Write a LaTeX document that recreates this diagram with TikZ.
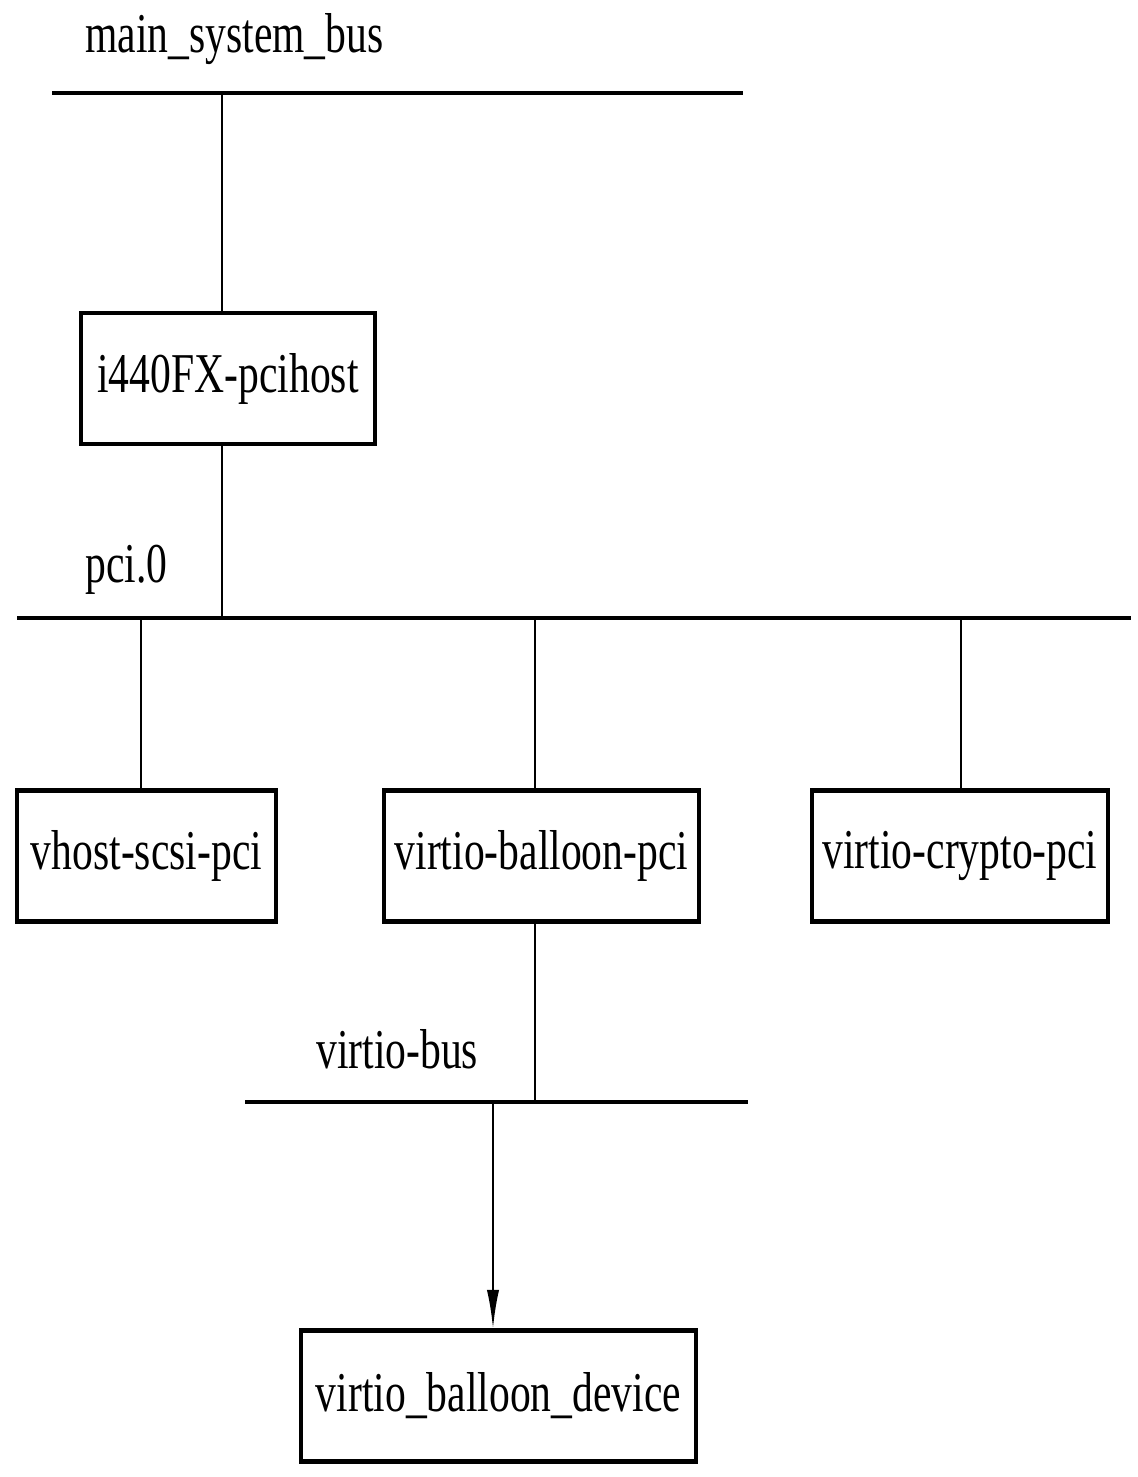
\documentclass[tikz,border=0pt]{standalone}
\usepackage{fontspec}
\setmainfont[FakeStretch=0.74]{Liberation Serif}
\usetikzlibrary{arrows.meta}

\begin{document}
\begin{tikzpicture}[x=0.02cm,y=-0.02cm,
  box/.style={draw,line width=2.4pt,minimum height=2.62cm,inner sep=0pt,font=\fontsize{32}{38}\selectfont},
  busname/.style={anchor=base west,inner sep=0pt,font=\fontsize{32}{38}\selectfont},
  bus/.style={line width=2pt},
  link/.style={line width=1.3pt}]
\useasboundingbox (0,0) rectangle (1138,1477);

% Buses
\draw[bus] (52,93) coordinate (mbusL) -- (743,93) coordinate (mbusR);
\draw[bus] (17,618) coordinate (pbusL) -- (1131,618) coordinate (pbusR);
\draw[bus] (245,1102) coordinate (vbusL) -- (748,1102) coordinate (vbusR);
\node[busname] (mbusname) at (85,53) {main\_system\_bus};
\node[busname] (pbusname) at (85,582) {pci.0};
\node[busname] (vbusname) at (316,1068) {virtio-bus};

% Devices
\node[box,minimum width=5.88cm] (host) at (228,378.5) {i440FX-pcihost};
\node[box,minimum width=5.18cm] (vhost) at (146.5,856) {vhost-scsi-pci};
\node[box,minimum width=6.30cm] (balloonpci) at (541.5,856) {virtio-balloon-pci};
\node[box,minimum width=5.92cm] (crypto) at (960,856) {virtio-crypto-pci};
\node[box,minimum width=7.90cm] (balloondev) at (498.5,1396) {virtio\_balloon\_device};

% Taps on the buses
\coordinate (mtap) at (222,93);
\coordinate (ptap) at (222,618);
\coordinate (p1) at (141,618);
\coordinate (p2) at (535,618);
\coordinate (p3) at (961,618);
\coordinate (vtap) at (535,1102);
\coordinate (vout) at (493,1102);

% Connections
\draw[link] (mtap) -- (mtap |- host.north);
\draw[link] (ptap |- host.south) -- (ptap);
\draw[link] (p1) -- (p1 |- vhost.north);
\draw[link] (p2) -- (p2 |- balloonpci.north);
\draw[link] (p3) -- (p3 |- crypto.north);
\draw[link] (vtap |- balloonpci.south) -- (vtap);
\draw[link,-{Latex[length=22pt,width=7pt]}] (vout) -- (vout |- balloondev.north);

\end{tikzpicture}
\end{document}
